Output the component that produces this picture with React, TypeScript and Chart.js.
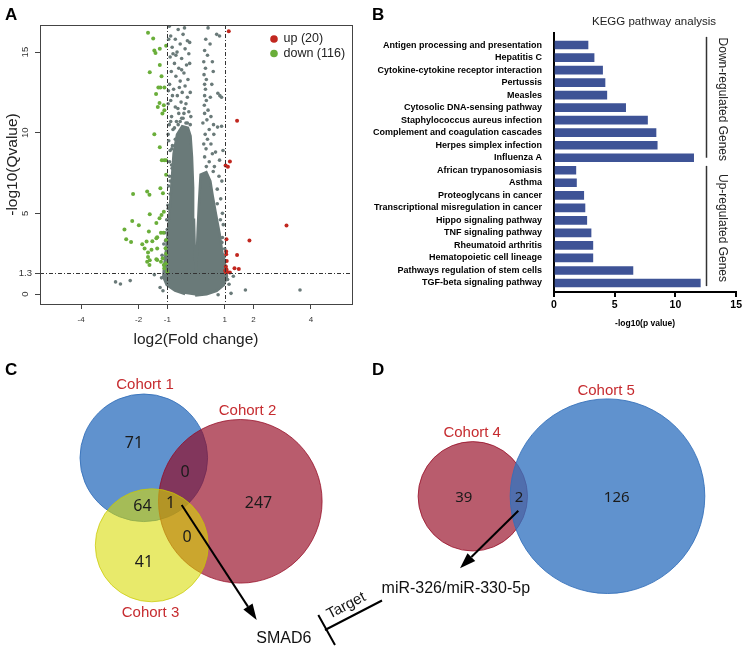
import React, { useEffect, useRef } from 'react';
import { Chart, registerables } from 'chart.js';

Chart.register(...registerables);

const FONT = '"Liberation Sans", Arial, Helvetica, sans-serif';
const NUM_FONT = '"Noto Sans", "DejaVu Sans", sans-serif';

// ================= Panel A : volcano plot =================
const FC_CUT = 1;
const Q_CUT = 1.3;
const volcanoXTicks = [-4, -2, -1, 1, 2, 4];
const volcanoYTicks = [0, 1.3, 5, 10, 15];
const volcanoXTitle = 'log2(Fold change)';
const volcanoYTitle = '-log10(Qvalue)';
const upLabel = 'up (20)';
const downLabel = 'down (116)';

// outline of the dense, non-significant point cloud (log2FC, -log10 Q)
const nsDenseOutline: [number, number][] = [
  [-0.03, -0.1], [0.37, -0.02], [0.72, 0.2], [0.97, 0.56], [1.08, 1.07], [1.03, 1.69],
  [0.92, 2.52], [0.82, 3.76], [0.69, 5.0], [0.58, 6.1], [0.5, 7.0], [0.36, 7.55],
  [0.16, 7.4], [0.1, 5.5], [0.06, 4.0], [0.03, 2.5], [0.0, 1.15],
  [-0.04, 2.5], [-0.07, 4.6], [-0.1, 6.6], [-0.14, 8.5], [-0.19, 9.8], [-0.28, 10.3], [-0.48, 10.4],
  [-0.66, 9.9], [-0.78, 8.7], [-0.86, 6.65], [-0.94, 4.59], [-1.03, 2.93], [-1.11, 1.69], [-1.14, 1.07],
  [-1.02, 0.56], [-0.73, 0.21], [-0.38, 0.0],
];

// scattered non-significant genes
const nsPoints: [number, number][] = [
  [-0.93, 16.6], [-0.62, 16.4], [-0.88, 16.0], [-0.45, 16.1], [-0.72, 15.8], [-0.3, 15.7], [-0.55, 15.5],
  [-0.83, 15.3], [-0.38, 15.2], [-0.66, 15.0], [-0.25, 14.9], [-0.9, 14.7], [-0.5, 14.6], [-0.75, 14.3],
  [-0.33, 14.2], [-0.6, 14.0], [-0.86, 13.8], [-0.42, 13.7], [-0.7, 13.5], [-0.28, 13.3], [-0.55, 13.2],
  [-0.92, 13.0], [-0.38, 12.9], [-0.78, 12.7], [-0.48, 12.5], [-0.65, 12.3], [-0.3, 12.2], [-0.88, 12.0],
  [-0.52, 11.9], [-0.72, 11.6], [-0.4, 11.5], [-0.25, 11.3], [-0.6, 11.2], [-0.85, 11.0], [-0.45, 10.9],
  [-0.68, 10.7], [-0.93, 10.5], [-0.35, 10.6], [-0.8, 10.2], [-0.55, 10.7], [-0.62, 10.5], [-0.72, 9.6],
  [-0.3, 10.6], [-0.5, 10.9], [-0.82, 9.2], [-0.95, 9.5], [-0.9, 8.9], [-0.85, 8.0], [-0.92, 7.3],
  [-0.9, 6.2], [-0.98, 5.5], [-1.02, 4.6], [-1.08, 3.8], [-1.12, 3.1], [-1.18, 2.4], [-0.83, 7.8],
  [-0.9, 7.0], [-0.97, 5.3], [-1.0, 4.0], [-1.06, 3.3], [-1.1, 2.2], [-0.2, 12.5], [-0.22, 14.3],
  [-0.18, 11.0], [-0.8, 14.9], [-0.97, 11.8], [-0.96, 12.6], [-0.97, 9.9], [-0.84, 9.0], [-0.42, 11.2],
  [-0.58, 12.8], [-0.82, 12.3], [-0.35, 11.8], [-0.63, 11.5], [-0.88, 10.7], [-0.5, 13.9], [-0.7, 14.8],
  [-0.22, 15.6], [-0.95, 15.8], [-0.4, 16.5], [-0.75, 10.3], [-0.92, 8.2], [-0.95, 6.7], [-0.2, 10.5],
  [0.42, 16.5], [0.72, 16.1], [0.82, 16.0], [0.49, 15.5], [0.3, 15.1], [0.4, 14.8], [0.57, 14.4],
  [0.33, 14.0], [0.6, 13.8], [0.28, 13.6], [0.36, 13.3], [0.3, 13.0], [0.33, 12.7], [0.76, 12.45],
  [0.83, 12.3], [0.89, 12.2], [0.3, 12.3], [0.36, 12.0], [0.29, 11.7], [0.42, 11.4], [0.52, 11.0],
  [0.38, 10.8], [0.61, 10.5], [0.75, 10.35], [0.89, 10.4], [0.46, 10.2], [0.32, 9.9], [0.4, 9.6],
  [0.52, 9.3], [0.35, 9.0], [0.57, 8.7], [0.3, 8.5], [0.46, 8.2], [0.64, 7.9], [0.36, 7.9], [0.82, 8.3],
  [0.8, 7.3], [0.74, 6.5], [0.86, 5.9], [0.92, 5.0], [0.95, 4.3], [0.92, 3.5], [0.6, 7.6], [0.27, 9.3],
  [0.5, 12.2], [0.94, 8.9], [0.9, 7.0], [0.74, 5.6], [0.85, 4.6], [0.9, 3.2], [0.98, 2.3], [1.0, 2.8],
  [0.24, 10.6], [0.27, 14.4], [0.55, 13.0], [0.62, 9.9], [0.68, 8.8], [0.34, 15.8], [0.3, 11.2],
  [-2.8, 0.75], [-2.63, 0.62], [-2.29, 0.83], [-1.45, 1.2], [1.72, 0.25], [3.62, 0.25], [1.22, 0.04],
  [0.77, -0.05], [1.3, 1.1], [-1.25, 0.4], [1.15, 0.6], [-1.2, 1.0], [1.1, 0.9], [-1.15, 0.2],
];

// significantly down-regulated genes (green)
const downPoints: [number, number][] = [
  [-1.67, 16.2], [-1.49, 15.84], [-1.45, 15.1], [-1.41, 14.95], [-1.26, 15.2], [-1.04, 15.4],
  [-1.61, 13.75], [-1.26, 14.2], [-1.2, 13.5], [-1.31, 12.8], [-1.24, 12.8], [-1.39, 12.4],
  [-1.1, 12.8], [-1.33, 11.6], [-1.27, 11.85], [-1.12, 11.7], [-1.17, 11.2], [-1.1, 11.4],
  [-1.45, 9.9], [-1.26, 9.1], [-1.19, 8.3], [-1.1, 8.3], [-1.04, 8.3], [-1.04, 7.4],
  [-2.19, 6.2], [-1.7, 6.35], [-1.62, 6.15], [-1.24, 6.55], [-1.15, 6.25], [-1.61, 4.95],
  [-1.12, 5.1], [-1.2, 4.9], [-1.27, 4.7], [-2.22, 4.53], [-1.99, 4.26], [-1.38, 4.4],
  [-2.49, 4.0], [-1.64, 3.87], [-1.22, 3.8], [-1.13, 3.8], [-1.35, 3.52], [-2.43, 3.4],
  [-2.26, 3.23], [-1.87, 3.08], [-1.72, 3.25], [-1.52, 3.27], [-1.04, 3.35], [-1.38, 3.45],
  [-1.79, 2.82], [-1.67, 2.57], [-1.35, 2.82], [-1.06, 2.84], [-1.55, 2.75], [-1.7, 2.0],
  [-1.35, 2.11], [-1.16, 2.22], [-1.04, 2.5], [-1.61, 2.1], [-1.62, 1.8], [-1.12, 1.8],
  [-1.22, 2.0], [-1.04, 1.9], [-1.1, 1.6], [-1.0, 1.38], [-1.67, 2.3], [-1.38, 2.15],
];

// significantly up-regulated genes (red)
const upPoints: [number, number][] = [
  [1.14, 16.3], [1.43, 10.75], [1.18, 8.22], [1.03, 7.97], [1.11, 7.89], [3.15, 4.24],
  [1.86, 3.31], [1.06, 3.4], [1.43, 2.42], [1.05, 2.63], [1.05, 2.46], [1.34, 1.6],
  [1.49, 1.55], [1.06, 1.53], [1.03, 1.37], [1.09, 1.36], [1.18, 1.33], [1.02, 1.45],
  [1.04, 1.7], [1.07, 2.05],
];

// ================= Panel B : KEGG bars =================
const keggTitle = 'KEGG pathway analysis';
const keggXTitle = '-log10(p value)';
const keggXTicks = [0, 5, 10, 15];
const downGroupLabel = 'Down-regulated Genes';
const upGroupLabel = 'Up-regulated Genes';
const downPathways = [
  'Antigen processing and presentation', 'Hepatitis C', 'Cytokine-cytokine receptor interaction',
  'Pertussis', 'Measles', 'Cytosolic DNA-sensing pathway', 'Staphylococcus aureus infection',
  'Complement and coagulation cascades', 'Herpes simplex infection', 'Influenza A',
];
const downLogP = [2.8, 3.3, 4.0, 4.2, 4.35, 5.9, 7.7, 8.4, 8.5, 11.5];
const upPathways = [
  'African trypanosomiasis', 'Asthma', 'Proteoglycans in cancer', 'Transcriptional misregulation in cancer',
  'Hippo signaling pathway', 'TNF signaling pathway', 'Rheumatoid arthritis', 'Hematopoietic cell lineage',
  'Pathways regulation of stem cells', 'TGF-beta signaling pathway',
];
const upLogP = [1.8, 1.85, 2.45, 2.55, 2.7, 3.05, 3.2, 3.2, 6.5, 12.05];

// ================= Panels C & D : Venn diagrams =================
const vennCSets = ['Cohort 1', 'Cohort 2', 'Cohort 3'];
// regions: 1 only, 1&2, 1&3, 1&2&3, 2 only, 2&3, 3 only
const vennCCounts = [71, 0, 64, 1, 247, 0, 41];
const vennCShared = 'SMAD6';
const vennDSets = ['Cohort 4', 'Cohort 5'];
// regions: 4 only, 4&5, 5 only
const vennDCounts = [39, 2, 126];
const vennDShared = 'miR-326/miR-330-5p';
const relationLabel = 'Target';

// ---------- layout (page pixel coordinates) ----------
const B_LEFT = 350;
const VENN_TOP = 330;
const VENN_C_CIRCLES = [
  { x: 143.8, y: 457.8, r: 63.8 },
  { x: 240.3, y: 501.3, r: 81.8 },
  { x: 151.8, y: 545.3, r: 56.5 },
];
const VENN_C_SET_POS = [[145, 385], [247.5, 411], [150.5, 613]];
const VENN_C_COUNT_POS = [[134, 443.5], [185, 472.5], [142.5, 506.5], [170.5, 503.5], [258.5, 503.5], [187, 537], [144, 562]];
const VENN_D_CIRCLES = [
  { x: 472.8, y: 496.3, r: 54.7 },
  { x: 607.5, y: 496.2, r: 97.3 },
];
const VENN_D_SET_POS = [[472.2, 432.5], [606.2, 391]];
const VENN_D_COUNT_POS = [[463.8, 498], [519, 498], [616.7, 498]];

const GREY = '#6a7a79';
const GREEN = '#6aae3a';
const RED = '#c1271f';
const BAR = '#3e5396';
const SET_RED = '#c62b2f';

function drawArrow(ctx: CanvasRenderingContext2D, x1: number, y1: number, x2: number, y2: number, head = 16, width = 11) {
  const ang = Math.atan2(y2 - y1, x2 - x1);
  const bx = x2 - head * Math.cos(ang);
  const by = y2 - head * Math.sin(ang);
  ctx.beginPath();
  ctx.moveTo(x1, y1);
  ctx.lineTo(bx, by);
  ctx.stroke();
  ctx.beginPath();
  ctx.moveTo(x2, y2);
  ctx.lineTo(bx + (width / 2) * Math.sin(ang), by - (width / 2) * Math.cos(ang));
  ctx.lineTo(bx - (width / 2) * Math.sin(ang), by + (width / 2) * Math.cos(ang));
  ctx.closePath();
  ctx.fill();
}

function panelLetter(ctx: CanvasRenderingContext2D, t: string, x: number, y: number) {
  ctx.save();
  ctx.fillStyle = '#000';
  ctx.font = `bold 17px ${FONT}`;
  ctx.textAlign = 'left';
  ctx.textBaseline = 'alphabetic';
  ctx.fillText(t, x, y);
  ctx.restore();
}

const toXY = (arr: [number, number][]) => arr.map(([x, y]) => ({ x, y }));

function makeVolcano(canvas: HTMLCanvasElement) {
  const decor = {
    id: 'volcanoDecor',
    afterDatasetsDraw(chart: any) {
      const { ctx, chartArea: a, scales } = chart;
      const x = scales.x;
      const y = scales.y;
      ctx.save();
      ctx.strokeStyle = '#333';
      ctx.lineWidth = 1;
      ctx.setLineDash([4, 2, 1, 2]);
      [-FC_CUT, FC_CUT].forEach((v) => {
        const px = Math.round(x.getPixelForValue(v)) + 0.5;
        ctx.beginPath();
        ctx.moveTo(px, a.top);
        ctx.lineTo(px, a.bottom);
        ctx.stroke();
      });
      const py = Math.round(y.getPixelForValue(Q_CUT)) + 0.5;
      ctx.beginPath();
      ctx.moveTo(a.left, py);
      ctx.lineTo(a.right, py);
      ctx.stroke();
      ctx.setLineDash([]);
      ctx.strokeStyle = '#444';
      ctx.strokeRect(Math.round(a.left) + 0.5, Math.round(a.top) + 0.5, Math.round(a.right - a.left), Math.round(a.bottom - a.top));
      ctx.restore();
    },
    afterDraw(chart: any) {
      const { ctx, chartArea: a, scales } = chart;
      const y = scales.y;
      ctx.save();
      ctx.fillStyle = '#333';
      ctx.font = `9.5px ${FONT}`;
      volcanoYTicks.forEach((v) => {
        const py = y.getPixelForValue(v);
        if (v === Q_CUT) {
          ctx.textAlign = 'right';
          ctx.textBaseline = 'middle';
          ctx.fillText(String(v), a.left - 8, py);
        } else {
          ctx.save();
          ctx.translate(a.left - 15, py);
          ctx.rotate(-Math.PI / 2);
          ctx.textAlign = 'center';
          ctx.textBaseline = 'middle';
          ctx.fillText(String(v), 0, 0);
          ctx.restore();
        }
      });
      // legend
      const lx = a.right - 78;
      const items: [string, string, number][] = [[RED, upLabel, a.top + 14], [GREEN, downLabel, a.top + 28.5]];
      ctx.font = `12.5px ${FONT}`;
      ctx.textAlign = 'left';
      ctx.textBaseline = 'middle';
      items.forEach(([c, t, ly]) => {
        ctx.fillStyle = c;
        ctx.beginPath();
        ctx.arc(lx, ly, 3.8, 0, Math.PI * 2);
        ctx.fill();
        ctx.fillStyle = '#222';
        ctx.fillText(t, lx + 9.5, ly);
      });
      ctx.restore();
      panelLetter(ctx, 'A', 5, 20);
    },
  };

  return new Chart(canvas, {
    type: 'scatter',
    data: {
      datasets: [
        {
          label: 'dense',
          data: toXY(nsDenseOutline),
          showLine: true,
          fill: 'shape',
          backgroundColor: GREY,
          borderColor: GREY,
          borderWidth: 2.5,
          pointRadius: 0,
          order: 4,
        } as any,
        { label: 'ns', data: toXY(nsPoints), backgroundColor: GREY, borderWidth: 0, pointRadius: 1.8, order: 3 },
        { label: downLabel, data: toXY(downPoints), backgroundColor: GREEN, borderWidth: 0, pointRadius: 2, order: 2 },
        { label: upLabel, data: toXY(upPoints), backgroundColor: RED, borderWidth: 0, pointRadius: 2, order: 1 },
      ],
    },
    options: {
      responsive: false,
      animation: false,
      events: [],
      layout: { autoPadding: false, padding: { top: 25, right: 13, left: 0, bottom: 0 } },
      plugins: { legend: { display: false }, tooltip: { enabled: false } },
      scales: {
        x: {
          type: 'linear',
          min: -5.43,
          max: 5.43,
          afterBuildTicks: (s: any) => { s.ticks = volcanoXTicks.map((v) => ({ value: v })); },
          grid: { drawOnChartArea: false, drawTicks: true, tickLength: 5, color: '#444' },
          border: { display: false },
          ticks: { font: { size: 8, family: FONT }, color: '#333', padding: 6, autoSkip: false, maxRotation: 0 },
          title: { display: true, text: volcanoXTitle, font: { size: 15.5, family: FONT }, color: '#222', padding: { top: 0, bottom: 3 } },
          afterFit: (s: any) => { s.height = 48; },
        },
        y: {
          type: 'linear',
          min: -0.62,
          max: 16.68,
          afterBuildTicks: (s: any) => { s.ticks = volcanoYTicks.map((v) => ({ value: v })); },
          grid: { drawOnChartArea: false, drawTicks: true, tickLength: 5, color: '#444' },
          border: { display: false },
          ticks: { display: false },
          title: { display: true, text: volcanoYTitle, font: { size: 15.5, family: FONT }, color: '#222', padding: { top: 3, bottom: 0 } },
          afterFit: (s: any) => { s.width = 40; },
        },
      },
    } as any,
    plugins: [decor],
  });
}

function makeKegg(canvas: HTMLCanvasElement) {
  const labels = [...downPathways, ...upPathways];
  const values = [...downLogP, ...upLogP];
  const nDown = downPathways.length;
  const decor = {
    id: 'keggDecor',
    afterDraw(chart: any) {
      const { ctx, chartArea: a, scales } = chart;
      const y = scales.y;
      ctx.save();
      ctx.fillStyle = '#222';
      ctx.font = `11.5px ${FONT}`;
      ctx.textAlign = 'center';
      ctx.textBaseline = 'middle';
      ctx.fillText(keggTitle, a.left + 100, 22);
      const bx = Math.round(a.right - 30) + 0.5;
      const groups: [string, number, number][] = [
        [downGroupLabel, y.getPixelForValue(-0.65), y.getPixelForValue(nDown - 1)],
        [upGroupLabel, y.getPixelForValue(nDown - 0.35), y.getPixelForValue(labels.length - 0.75)],
      ];
      ctx.strokeStyle = '#333';
      ctx.lineWidth = 1.5;
      ctx.font = `12px ${FONT}`;
      groups.forEach(([t, y0, y1]) => {
        ctx.beginPath();
        ctx.moveTo(bx, y0);
        ctx.lineTo(bx, y1);
        ctx.stroke();
        ctx.save();
        ctx.translate(a.right - 14, (y0 + y1) / 2 + 2);
        ctx.rotate(Math.PI / 2);
        ctx.fillText(t, 0, 0);
        ctx.restore();
      });
      ctx.restore();
      panelLetter(ctx, 'B', 372 - B_LEFT, 20);
    },
  };
  return new Chart(canvas, {
    type: 'bar',
    data: {
      datasets: [
        {
          label: '-log10(p value)',
          data: values.map((v, i) => ({ x: v, y: i })),
          backgroundColor: BAR,
          borderWidth: 0,
          barThickness: 8,
        },
      ],
    },
    options: {
      indexAxis: 'y',
      responsive: false,
      animation: false,
      events: [],
      layout: { padding: { top: 33, right: 7, left: 0, bottom: 0 } },
      plugins: { legend: { display: false }, tooltip: { enabled: false } },
      scales: {
        x: {
          type: 'linear',
          min: 0,
          max: 15,
          afterBuildTicks: (s: any) => { s.ticks = keggXTicks.map((v) => ({ value: v })); },
          grid: { drawOnChartArea: false, drawTicks: true, tickLength: 5, color: '#000', lineWidth: 2 },
          border: { display: true, color: '#000', width: 2 },
          ticks: { font: { size: 10.5, weight: 'bold', family: FONT }, color: '#000', padding: 2, maxRotation: 0 },
          title: { display: true, text: keggXTitle, font: { size: 8.5, weight: 'bold', family: FONT }, color: '#000', padding: { top: 0, bottom: 1 } },
          afterFit: (s: any) => { s.height = 38; },
        },
        y: {
          type: 'linear',
          min: -0.96,
          max: 19.72,
          reverse: true,
          offset: false,
          afterBuildTicks: (s: any) => { s.ticks = labels.map((_, i) => ({ value: i })); },
          grid: { display: false, offset: false },
          border: { display: true, color: '#000', width: 2 },
          ticks: {
            callback: (v: any) => labels[v] ?? '',
            font: { size: 9, weight: 'bold', family: FONT },
            color: '#000',
            padding: 4,
            autoSkip: false,
          },
          afterFit: (s: any) => { s.width = 554 - B_LEFT; },
        },
      },
    } as any,
    plugins: [decor],
  });
}

function makeVenn(canvas: HTMLCanvasElement) {
  const decor = {
    id: 'vennDecor',
    afterDatasetsDraw(chart: any) {
      const { ctx, scales } = chart;
      const P = (px: number, py: number): [number, number] => [scales.x.getPixelForValue(px), scales.y.getPixelForValue(py)];
      ctx.save();
      ctx.textAlign = 'center';
      ctx.textBaseline = 'middle';
      ctx.fillStyle = '#1b1b1b';
      ctx.font = `16px ${NUM_FONT}`;
      vennCCounts.forEach((n, i) => {
        const [px, py] = P(VENN_C_COUNT_POS[i][0], VENN_C_COUNT_POS[i][1]);
        ctx.fillText(String(n), px, py);
      });
      ctx.font = `15px ${NUM_FONT}`;
      vennDCounts.forEach((n, i) => {
        const [px, py] = P(VENN_D_COUNT_POS[i][0], VENN_D_COUNT_POS[i][1]);
        ctx.fillText(String(n), px, py);
      });
      ctx.fillStyle = SET_RED;
      ctx.font = `15px ${FONT}`;
      vennCSets.forEach((t, i) => {
        const [px, py] = P(VENN_C_SET_POS[i][0], VENN_C_SET_POS[i][1]);
        ctx.fillText(t, px, py);
      });
      vennDSets.forEach((t, i) => {
        const [px, py] = P(VENN_D_SET_POS[i][0], VENN_D_SET_POS[i][1]);
        ctx.fillText(t, px, py);
      });
      // arrows to the shared members
      ctx.strokeStyle = '#000';
      ctx.fillStyle = '#000';
      ctx.lineWidth = 2;
      const a1 = [...P(181.7, 505), ...P(256.7, 620)];
      drawArrow(ctx, a1[0], a1[1], a1[2], a1[3]);
      const a2 = [...P(518.3, 510.7), ...P(460, 568.3)];
      drawArrow(ctx, a2[0], a2[1], a2[2], a2[3]);
      ctx.fillStyle = '#111';
      ctx.font = `16px ${FONT}`;
      const s1 = P(283.8, 638.5);
      ctx.fillText(vennCShared, s1[0], s1[1]);
      const s2 = P(455.8, 588.5);
      ctx.fillText(vennDShared, s2[0], s2[1]);
      // inhibition (target) connector
      const l0 = P(325, 630);
      const l1 = P(382, 600.5);
      const t0 = P(318.3, 615);
      const t1 = P(335, 645);
      ctx.lineWidth = 2;
      ctx.beginPath();
      ctx.moveTo(l0[0], l0[1]);
      ctx.lineTo(l1[0], l1[1]);
      ctx.moveTo(t0[0], t0[1]);
      ctx.lineTo(t1[0], t1[1]);
      ctx.stroke();
      const tc = P(350, 613);
      ctx.save();
      ctx.translate(tc[0], tc[1]);
      ctx.rotate(Math.atan2(l1[1] - l0[1], l1[0] - l0[0]));
      ctx.textBaseline = 'alphabetic';
      ctx.font = `15px ${FONT}`;
      ctx.fillText(relationLabel, 0, -4);
      ctx.restore();
      ctx.restore();
      panelLetter(ctx, 'C', 5, 375 - VENN_TOP);
      panelLetter(ctx, 'D', 372, 375 - VENN_TOP);
    },
  };
  const circle = (c: { x: number; y: number; r: number }, fill: string, stroke: string, order: number, label: string) => ({
    label,
    data: [{ x: c.x, y: c.y, r: c.r }],
    backgroundColor: fill,
    borderColor: stroke,
    borderWidth: 1,
    clip: false,
    order,
  });
  const BLUE_F = 'rgba(51,115,192,0.78)';
  const BLUE_S = 'rgba(51,110,185,0.85)';
  const RED_F = 'rgba(148,8,34,0.66)';
  const RED_S = 'rgba(150,10,35,0.75)';
  const YEL_F = 'rgba(215,219,0,0.58)';
  const YEL_S = 'rgba(200,200,0,0.7)';
  return new Chart(canvas, {
    type: 'bubble',
    data: {
      datasets: [
        circle(VENN_C_CIRCLES[0], BLUE_F, BLUE_S, 3, vennCSets[0]),
        circle(VENN_C_CIRCLES[1], RED_F, RED_S, 2, vennCSets[1]),
        circle(VENN_C_CIRCLES[2], YEL_F, YEL_S, 1, vennCSets[2]),
        circle(VENN_D_CIRCLES[0], RED_F, RED_S, 2, vennDSets[0]),
        circle(VENN_D_CIRCLES[1], BLUE_F, BLUE_S, 1, vennDSets[1]),
      ],
    },
    options: {
      responsive: false,
      animation: false,
      events: [],
      layout: { autoPadding: false, padding: 0 },
      plugins: { legend: { display: false }, tooltip: { enabled: false } },
      scales: {
        x: { type: 'linear', display: false, min: 0, max: 744 },
        y: { type: 'linear', display: false, min: VENN_TOP, max: 648, reverse: true },
      },
    } as any,
    plugins: [decor],
  });
}

export default function App() {
  const aRef = useRef<HTMLCanvasElement>(null);
  const bRef = useRef<HTMLCanvasElement>(null);
  const cRef = useRef<HTMLCanvasElement>(null);
  useEffect(() => {
    Chart.defaults.font.family = FONT;
    Chart.defaults.color = '#222';
    const charts = [makeVolcano(aRef.current!), makeKegg(bRef.current!), makeVenn(cRef.current!)];
    return () => charts.forEach((c) => c.destroy());
  }, []);
  return (
    <div style={{ position: 'absolute', left: 0, top: 0, width: 744, height: 648, background: '#fff', overflow: 'hidden' }}>
      <canvas ref={aRef} width={365} height={352} style={{ position: 'absolute', left: 0, top: 0 }} />
      <canvas ref={bRef} width={744 - B_LEFT} height={330} style={{ position: 'absolute', left: B_LEFT, top: 0 }} />
      <canvas ref={cRef} width={744} height={648 - VENN_TOP} style={{ position: 'absolute', left: 0, top: VENN_TOP }} />
    </div>
  );
}
